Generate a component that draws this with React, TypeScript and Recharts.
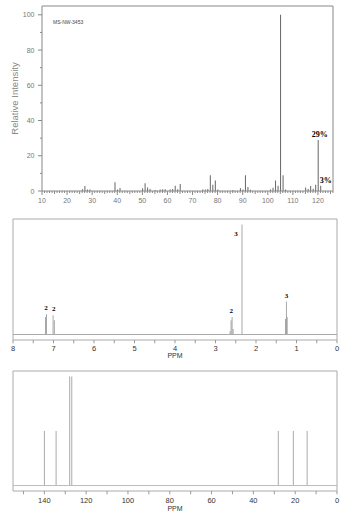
import React from 'react';
import { BarChart, Bar, XAxis, YAxis, ReferenceLine, ReferenceArea, ReferenceDot, LabelList } from 'recharts';

// ---------- Mass spectrum data ----------
const msMz = [26, 27, 28, 29, 39, 40, 41, 50, 51, 52, 53, 55, 57, 58, 59, 61, 62, 63, 64, 65, 74, 75, 76, 77, 78, 79, 80, 86, 89, 90, 91, 92, 93, 101, 102, 103, 104, 105, 106, 107, 115, 116, 117, 118, 119, 120, 121];
const msIntensity = [1.0, 2.8, 0.8, 0.8, 5.0, 0.8, 1.7, 1.5, 4.4, 2.0, 1.2, 0.6, 0.8, 1.0, 1.0, 0.8, 1.2, 3.0, 1.0, 4.0, 0.8, 0.8, 1.2, 9.0, 3.5, 6.0, 0.8, 0.6, 1.5, 0.8, 9.0, 2.2, 0.7, 0.8, 1.8, 6.0, 3.0, 100, 9.0, 0.8, 2.0, 1.2, 2.8, 1.3, 3.5, 29, 3.0];
const msPeakLabelMz = [120, 121];
const msPeakLabelText = ['29%', '3%'];
const msXMajorTicks = [10, 20, 30, 40, 50, 60, 70, 80, 90, 100, 110, 120];
const msYTicks = [0, 10, 20, 30, 40, 50, 60, 70, 80, 90, 100];
const msYLabels = [0, 20, 40, 60, 80, 100];
const msTitle = 'MS-NW-3453';
const msYTitle = 'Relative Intensity';

// ---------- 1H NMR data ----------
const hPpm = [7.2, 7.17, 7.01, 6.98, 2.64, 2.615, 2.59, 2.565, 2.345, 1.27, 1.25, 1.23];
const hHeight = [16, 18.5, 17.5, 13, 3, 13, 16, 5, 100, 14, 30, 16];
const hLabelPpm = [7.185, 6.995, 2.61, 2.345, 1.25];
const hLabelHeight = [18.5, 17.5, 16, 100, 30];
const hLabelText = ['2', '2', '2', '3', '3'];
const hLabelPlacement = ['top', 'top', 'top', 'left', 'top'];
const hTicks = [0, 0.5, 1, 1.5, 2, 2.5, 3, 3.5, 4, 4.5, 5, 5.5, 6, 6.5, 7, 7.5, 8];
const hTickLabels = [0, 1, 2, 3, 4, 5, 6, 7, 8];

// ---------- 13C NMR data ----------
const cPpm = [140.2, 134.6, 128.1, 127.1, 28.3, 21.1, 14.5];
const cHeight = [50, 50, 100, 100, 50, 50, 50];
const cTicks = [0, 10, 20, 30, 40, 50, 60, 70, 80, 90, 100, 110, 120, 130, 140, 150];
const cTickLabels = [0, 20, 40, 60, 80, 100, 120, 140];

const SANS = '"Liberation Sans", Arial, sans-serif';
const SERIF = '"Liberation Serif", "Times New Roman", serif';

const msXTicks: number[] = [];
for (let v = 10; v <= 126; v++) msXTicks.push(v);

const msData = msMz.map((mz, i) => {
  const li = msPeakLabelMz.indexOf(mz);
  return { mz, intensity: msIntensity[i], label: li >= 0 ? msPeakLabelText[li] : '' };
});
const hData = hPpm.map((ppm, i) => ({ ppm, h: hHeight[i] }));
const cData = cPpm.map((ppm, i) => ({ ppm, h: cHeight[i] }));

const MsXTick = (props: any) => {
  const { x, y, payload } = props;
  const v = payload.value;
  const major = msXMajorTicks.includes(v);
  const len = v % 10 === 0 ? 4 : v % 5 === 0 ? 3 : 2;
  return (
    <g>
      <line x1={x} x2={x} y1={y} y2={y + len} stroke="#888" strokeWidth={1} />
      {major && (
        <text x={x} y={y + 12.2} textAnchor="middle" fontSize={7} fill="#777" fontFamily={SANS}>
          {v}
        </text>
      )}
    </g>
  );
};

const MsYTick = (props: any) => {
  const { x, y, payload } = props;
  const v = payload.value;
  const major = msYLabels.includes(v);
  const len = major ? 4 : 2;
  return (
    <g>
      <line x1={x - len} x2={x} y1={y} y2={y} stroke="#888" strokeWidth={1} />
      {major && (
        <text x={x - 7.5} y={y + 2.5} textAnchor="end" fontSize={7} fill="#777" fontFamily={SANS}>
          {v}
        </text>
      )}
    </g>
  );
};

const YTitle = (props: any) => {
  const vb = props.viewBox || { x: 8, y: 6, width: 34, height: 185 };
  const cx = vb.x + 7;
  const cy = vb.y + vb.height / 2;
  return (
    <text
      x={cx}
      y={cy}
      transform={`rotate(-90 ${cx} ${cy})`}
      textAnchor="middle"
      dy="0.35em"
      fontSize={9.5}
      fill="#888"
      fontFamily={SANS}
    >
      {msYTitle}
    </text>
  );
};

const MsPeakLabel = (props: any) => {
  const { x, y, width, value } = props;
  if (!value) return null;
  const dx = value === '3%' ? 5 : 1.5;
  return (
    <text
      x={x + width / 2 + dx}
      y={y - 2.5}
      textAnchor="middle"
      fontSize={8}
      fontWeight="bold"
      fill="#000"
      fontFamily={SERIF}
    >
      {value}
    </text>
  );
};

const makeNmrTick = (labels: number[], labelOffset: number) => (props: any) => {
  const { x, y, payload } = props;
  const v = payload.value;
  const show = labels.includes(v);
  return (
    <g>
      <line x1={x} x2={x} y1={y} y2={y + 3.3} stroke="#999" strokeWidth={1} />
      {show && (
        <text x={x} y={y + labelOffset} textAnchor="middle" fontSize={7.5} fill="#333" fontFamily={SANS}>
          {v}
        </text>
      )}
    </g>
  );
};

const HTick = makeNmrTick(hTickLabels, 10.8);
const CTick = makeNmrTick(cTickLabels, 12.2);

export default function App() {
  return (
    <div style={{ position: 'absolute', left: 0, top: 0, width: 361, height: 517, background: '#fff', opacity: 0.999 }}>
      {/* Mass spectrum */}
      <div style={{ position: 'absolute', left: 0, top: 0 }}>
        <BarChart width={361} height={215} data={msData} margin={{ top: 6, right: 28, left: 8, bottom: 4 }}>
          <XAxis
            type="number"
            dataKey="mz"
            domain={[10, 126]}
            ticks={msXTicks}
            interval={0}
            tickLine={false}
            tickSize={0}
            tickMargin={0}
            tick={MsXTick}
            axisLine={{ stroke: '#888' }}
            height={20}
            allowDataOverflow
          />
          <YAxis
            type="number"
            domain={[0, 105]}
            ticks={msYTicks}
            interval={0}
            tickLine={false}
            tickSize={0}
            tickMargin={0}
            tick={MsYTick}
            axisLine={{ stroke: '#888' }}
            width={34}
            label={<YTitle />}
            allowDataOverflow
          />
          <ReferenceLine y={105} stroke="#888" ifOverflow="visible" />
          <ReferenceLine x={126} stroke="#888" ifOverflow="visible" />
          <Bar dataKey="intensity" fill="#666" barSize={1} isAnimationActive={false}>
            <LabelList dataKey="label" content={MsPeakLabel} />
          </Bar>
        </BarChart>
        <div
          style={{
            position: 'absolute',
            left: 53,
            top: 19,
            fontSize: 5,
            lineHeight: '6px',
            color: '#444',
            fontFamily: SANS,
            whiteSpace: 'nowrap',
          }}
        >
          {msTitle}
        </div>
      </div>

      {/* 1H NMR */}
      <div style={{ position: 'absolute', left: 0, top: 210 }}>
        <BarChart width={361} height={155} data={hData} margin={{ top: 9, right: 24, left: 13, bottom: 0 }}>
          <XAxis
            type="number"
            dataKey="ppm"
            domain={[0, 8]}
            reversed
            ticks={hTicks}
            interval={0}
            tickLine={false}
            tickSize={0}
            tickMargin={0}
            tick={HTick}
            axisLine={false}
            height={25}
            allowDataOverflow
            label={{ value: 'PPM', position: 'insideBottom', offset: 7, fontSize: 7, fill: '#333', fontFamily: SANS }}
          />
          <YAxis hide type="number" domain={[-5, 105]} allowDataOverflow />
          <ReferenceArea x1={0} x2={8} y1={-5} y2={105} fill="none" stroke="#aaa" ifOverflow="visible" />
          <ReferenceLine y={0} stroke="#aaa" />
          <Bar dataKey="h" fill="#888" barSize={1} isAnimationActive={false} />
          {hLabelPpm.map((p, i) => (
            <ReferenceDot
              key={i}
              x={p}
              y={hLabelHeight[i]}
              r={0}
              ifOverflow="visible"
              shape={(sp: any) => {
                const left = hLabelPlacement[i] === 'left';
                return (
                  <text
                    x={sp.cx + (left ? -6 : 0)}
                    y={sp.cy + (left ? 11.5 : -4)}
                    textAnchor="middle"
                    fontSize={7}
                    fontWeight="bold"
                    fill="#000"
                    fontFamily={SERIF}
                  >
                    {hLabelText[i]}
                  </text>
                );
              }}
            />
          ))}
        </BarChart>
      </div>

      {/* 13C NMR */}
      <div style={{ position: 'absolute', left: 0, top: 362 }}>
        <BarChart width={361} height={155} data={cData} margin={{ top: 9, right: 24, left: 13, bottom: 0 }}>
          <XAxis
            type="number"
            dataKey="ppm"
            domain={[0, 155]}
            reversed
            ticks={cTicks}
            interval={0}
            tickLine={false}
            tickSize={0}
            tickMargin={0}
            tick={CTick}
            axisLine={false}
            height={26}
            allowDataOverflow
            label={{ value: 'PPM', position: 'insideBottom', offset: 6.5, fontSize: 7, fill: '#333', fontFamily: SANS }}
          />
          <YAxis hide type="number" domain={[-5, 105]} allowDataOverflow />
          <ReferenceArea x1={0} x2={155} y1={-5} y2={105} fill="none" stroke="#aaa" ifOverflow="visible" />
          <ReferenceLine y={0} stroke="#bbb" />
          <Bar dataKey="h" fill="#aaa" barSize={1} isAnimationActive={false} />
        </BarChart>
      </div>
    </div>
  );
}
